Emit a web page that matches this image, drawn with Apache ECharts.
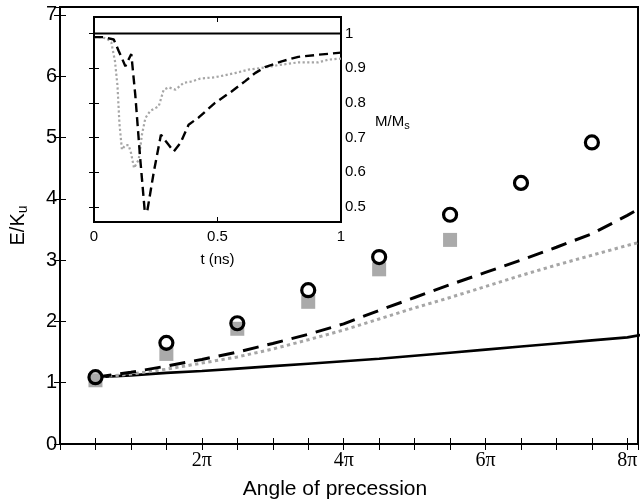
<!DOCTYPE html>
<html>
<head>
<meta charset="utf-8">
<script src="https://cdn.jsdelivr.net/npm/echarts@6/dist/echarts.min.js"></script>
<style>
  html, body { margin: 0; padding: 0; background: #fff; }
  #chart { width: 642px; height: 503px; }
</style>
</head>
<body>
<div id="chart"></div>
<script>
// main plot: x in units of pi
const pointX = [0.5, 1.5, 2.5, 3.5, 4.5, 5.5, 6.5, 7.5];
const circleE = [1.09, 1.65, 1.97, 2.51, 3.05, 3.74, 4.26, 4.92];
const squareE = [1.04, 1.47, 1.88, 2.32, 2.85, 3.33];

const lineX   = [0.5, 1, 1.5, 2, 2.5, 3, 3.5, 4, 4.5, 5, 5.5, 6, 6.5, 7, 7.5, 8, 8.2];
const solidE  = [1.09, 1.12, 1.16, 1.19, 1.23, 1.27, 1.31, 1.35, 1.39, 1.44, 1.49, 1.54, 1.59, 1.64, 1.69, 1.74, 1.78];
const dashedE = [1.09, 1.17, 1.27, 1.38, 1.50, 1.64, 1.79, 1.96, 2.18, 2.39, 2.60, 2.80, 3.00, 3.21, 3.43, 3.73, 3.86];
const dottedE = [1.09, 1.14, 1.22, 1.32, 1.42, 1.55, 1.70, 1.86, 2.04, 2.22, 2.39, 2.57, 2.75, 2.92, 3.08, 3.24, 3.30];

// inset: M/Ms vs t (ns)
const tDash = [0, 0.04, 0.08, 0.10, 0.127, 0.14, 0.151, 0.167, 0.187, 0.205, 0.215, 0.221, 0.242, 0.271, 0.29, 0.302, 0.323, 0.35, 0.383, 0.424, 0.49, 0.557, 0.611, 0.652, 0.692, 0.76, 0.827, 0.908, 1.0];
const mDash = [0.99, 0.99, 0.983, 0.95, 0.906, 0.925, 0.941, 0.824, 0.64, 0.491, 0.485, 0.49, 0.60, 0.708, 0.69, 0.679, 0.66, 0.684, 0.737, 0.758, 0.80, 0.833, 0.862, 0.886, 0.903, 0.92, 0.933, 0.939, 0.945];
const tDot = [0, 0.03, 0.053, 0.07, 0.085, 0.095, 0.103, 0.113, 0.127, 0.14, 0.15, 0.162, 0.181, 0.194, 0.208, 0.228, 0.262, 0.282, 0.302, 0.33, 0.363, 0.397, 0.43, 0.49, 0.571, 0.625, 0.679, 0.746, 0.827, 0.908, 0.95, 1.0];
const mDot = [0.99, 0.99, 0.985, 0.975, 0.92, 0.85, 0.74, 0.665, 0.678, 0.678, 0.655, 0.612, 0.636, 0.708, 0.756, 0.777, 0.79, 0.838, 0.845, 0.838, 0.858, 0.862, 0.87, 0.874, 0.886, 0.896, 0.901, 0.909, 0.917, 0.917, 0.925, 0.928];
const insetTicks = [0.5, 0.6, 0.7, 0.8, 0.9, 1];

const SANS = '"Liberation Sans", Arial, Helvetica, sans-serif';
const SERIF = '"Liberation Serif", "Times New Roman", serif';

const zip = (xs, ys) => ys.map((y, i) => [xs[i], y]);

const chart = echarts.init(document.getElementById('chart'));

// ticks point into the plot box on every side (matlab style)
const tickIn = (len) => ({ show: true, inside: true, length: len, lineStyle: { color: '#000', width: 1 } });

chart.setOption({
    animation: false,
    backgroundColor: '#fff',
    grid: [
        { left: 60, top: 7, right: 4, bottom: 59, outerBoundsMode: 'none', show: true, borderColor: '#000', borderWidth: 2 },
        { left: 94, top: 17, right: 301, bottom: 281, outerBoundsMode: 'none', show: true, backgroundColor: '#fff', borderColor: '#000', borderWidth: 2 }
    ],
    xAxis: [
        {
            gridIndex: 0, type: 'value', min: 0, max: 8.15, interval: 0.5, position: 'bottom',
            axisLine: { show: false }, splitLine: { show: false }, axisTick: tickIn(6),
            axisLabel: {
                margin: 7, color: '#000', fontFamily: SERIF, fontSize: 20,
                formatter: v => (v > 0 && Math.abs(v % 2) < 1e-9) ? v + 'π' : ''
            },
            name: 'Angle of precession', nameLocation: 'middle', nameGap: 35,
            nameTextStyle: { color: '#000', fontFamily: SANS, fontSize: 21, padding: [0, 28, 0, 0] }
        },
        {
            gridIndex: 0, type: 'value', min: 0, max: 8.15, interval: 0.5, position: 'top',
            axisLine: { show: false }, splitLine: { show: false }, axisTick: tickIn(6), axisLabel: { show: false }
        },
        {
            gridIndex: 1, type: 'value', min: 0, max: 1, interval: 0.5, position: 'bottom',
            axisLine: { show: false }, splitLine: { show: false }, axisTick: tickIn(5),
            axisLabel: { margin: 7, color: '#000', fontFamily: SANS, fontSize: 15, formatter: v => String(v) },
            name: 't (ns)', nameLocation: 'middle', nameGap: 30,
            nameTextStyle: { color: '#000', fontFamily: SANS, fontSize: 15 }
        },
        {
            gridIndex: 1, type: 'value', min: 0, max: 1, interval: 0.5, position: 'top',
            axisLine: { show: false }, splitLine: { show: false }, axisTick: tickIn(5), axisLabel: { show: false }
        }
    ],
    yAxis: [
        {
            gridIndex: 0, type: 'value', min: 0, max: 7.13, interval: 1, position: 'left',
            axisLine: { show: false }, splitLine: { show: false }, axisTick: tickIn(6),
            axisLabel: {
                margin: 3, color: '#000', fontFamily: SANS, fontSize: 20,
                formatter: v => Number.isInteger(v) ? String(v) : ''
            },
            name: '{a|E/K}{b|u}', nameLocation: 'middle', nameGap: 30,
            nameTextStyle: {
                color: '#000', fontFamily: SANS, fontSize: 20,
                rich: {
                    a: { fontFamily: SANS, fontSize: 20, color: '#000' },
                    b: { fontFamily: SANS, fontSize: 14, color: '#000', padding: [10, 0, 0, 0] }
                }
            }
        },
        {
            gridIndex: 0, type: 'value', min: 0, max: 7.13, interval: 1, position: 'right',
            axisLine: { show: false }, splitLine: { show: false }, axisTick: tickIn(6), axisLabel: { show: false }
        },
        {
            gridIndex: 1, type: 'value', min: 0.456, max: 1.048, position: 'right',
            axisLine: { show: false }, splitLine: { show: false },
            axisTick: Object.assign({ customValues: insetTicks }, tickIn(5)),
            axisLabel: {
                customValues: insetTicks, margin: 4, color: '#000', fontFamily: SANS, fontSize: 15,
                formatter: v => v === 1 ? '1' : v.toFixed(1)
            }
        },
        {
            gridIndex: 1, type: 'value', min: 0.456, max: 1.048, position: 'left',
            axisLine: { show: false }, splitLine: { show: false },
            axisTick: Object.assign({ customValues: insetTicks }, tickIn(5)),
            axisLabel: { show: false }
        }
    ],
    graphic: [
        {
            type: 'text', left: 375, top: 114, z: 10,
            style: {
                text: '{a|M/M}{b|s}',
                rich: {
                    a: { fontFamily: SANS, fontSize: 15, fill: '#000' },
                    b: { fontFamily: SANS, fontSize: 11, fill: '#000', padding: [8, 0, 0, 0] }
                }
            }
        }
    ],
    series: [
        {
            name: 'solid', type: 'line', xAxisIndex: 0, yAxisIndex: 0, showSymbol: false, z: 2,
            data: zip(lineX, solidE),
            lineStyle: { color: '#000', width: 2.6 }
        },
        {
            name: 'dotted', type: 'line', xAxisIndex: 0, yAxisIndex: 0, showSymbol: false, z: 2,
            data: zip(lineX, dottedE),
            lineStyle: { color: '#a6a6a6', width: 3, type: [3.3, 3.4] }
        },
        {
            name: 'dashed', type: 'line', xAxisIndex: 0, yAxisIndex: 0, showSymbol: false, z: 2,
            data: zip(lineX, dashedE),
            lineStyle: { color: '#000', width: 3, type: [16, 9] }
        },
        {
            name: 'squares', type: 'scatter', xAxisIndex: 0, yAxisIndex: 0, z: 3,
            data: zip(pointX, squareE),
            symbol: 'rect', symbolSize: 14,
            itemStyle: { color: '#aaaaaa', opacity: 1 }
        },
        {
            name: 'circles', type: 'scatter', xAxisIndex: 0, yAxisIndex: 0, z: 4,
            data: zip(pointX, circleE),
            symbol: 'circle', symbolSize: 13,
            itemStyle: { color: 'rgba(0,0,0,0)', borderColor: '#000', borderWidth: 3.2, opacity: 1 }
        },
        {
            name: 'inset solid', type: 'line', xAxisIndex: 2, yAxisIndex: 2, showSymbol: false, z: 5,
            data: [[0, 1], [1, 1]],
            lineStyle: { color: '#000', width: 2 }
        },
        {
            name: 'inset dotted', type: 'line', xAxisIndex: 2, yAxisIndex: 2, showSymbol: false, z: 5,
            data: zip(tDot, mDot),
            lineStyle: { color: '#a6a6a6', width: 2.2, type: [2.2, 2.4] }
        },
        {
            name: 'inset dashed', type: 'line', xAxisIndex: 2, yAxisIndex: 2, showSymbol: false, z: 5,
            data: zip(tDash, mDash),
            lineStyle: { color: '#000', width: 2.4, type: [9, 5] }
        }
    ]
});
</script>
</body>
</html>
